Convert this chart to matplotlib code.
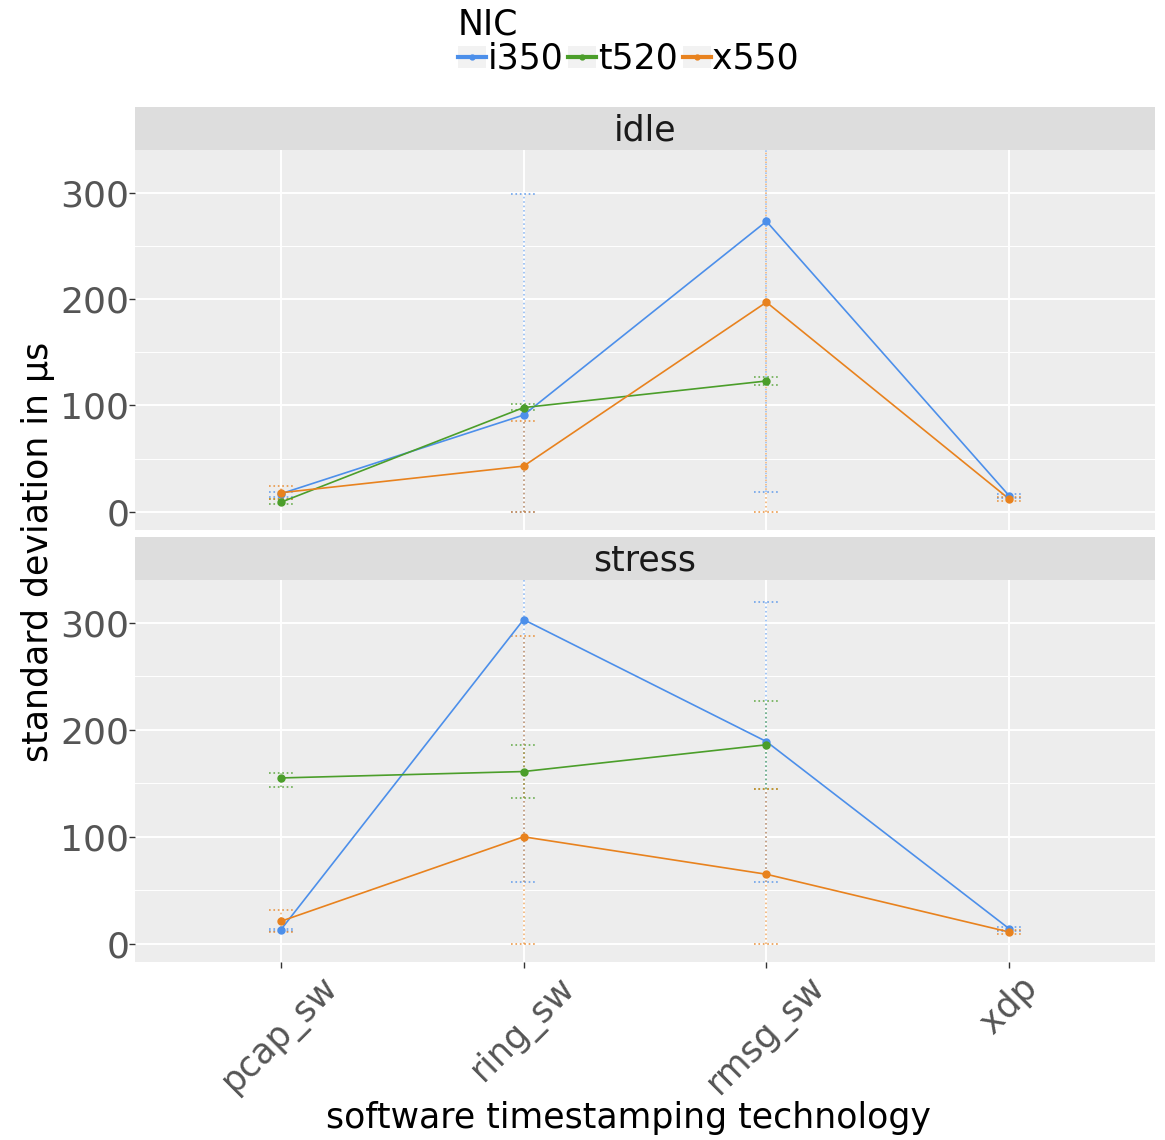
import numpy as np
import matplotlib
matplotlib.use("Agg")
import matplotlib.pyplot as plt
from matplotlib.lines import Line2D
from matplotlib.patches import Rectangle
from matplotlib.legend_handler import HandlerTuple

# ---- data -------------------------------------------------------------
categories = ["pcap_sw", "ring_sw", "rmsg_sw", "xdp"]
nics = ["i350", "t520", "x550"]
conditions = ["idle", "stress"]

# idle
idle_i350_mean = [17, 91, 273, 15]
idle_i350_lo = [14, 0, 19, 13]
idle_i350_hi = [19, 299, 420, 17]
idle_t520_mean = [9, 98, 123, np.nan]
idle_t520_lo = [7, 96, 119, np.nan]
idle_t520_hi = [12, 101, 127, np.nan]
idle_x550_mean = [18, 43, 197, 12]
idle_x550_lo = [12, 0, 0, 10]
idle_x550_hi = [24, 85, 400, 14]

# stress
stress_i350_mean = [13, 303, 189, 14]
stress_i350_lo = [12, 58, 58, 12]
stress_i350_hi = [14, 420, 319, 16]
stress_t520_mean = [155, 161, 186, np.nan]
stress_t520_lo = [147, 136, 145, np.nan]
stress_t520_hi = [160, 186, 227, np.nan]
stress_x550_mean = [21, 100, 65, 11]
stress_x550_lo = [11, 0, 0, 9]
stress_x550_hi = [32, 288, 145, 13]

series = {
    "idle": {
        "i350": (idle_i350_mean, idle_i350_lo, idle_i350_hi),
        "t520": (idle_t520_mean, idle_t520_lo, idle_t520_hi),
        "x550": (idle_x550_mean, idle_x550_lo, idle_x550_hi),
    },
    "stress": {
        "i350": (stress_i350_mean, stress_i350_lo, stress_i350_hi),
        "t520": (stress_t520_mean, stress_t520_lo, stress_t520_hi),
        "x550": (stress_x550_mean, stress_x550_lo, stress_x550_hi),
    },
}

colors = {"i350": "#4C8FEA", "t520": "#4B9E2A", "x550": "#E8821E"}

# ---- figure -------------------------------------------------------------
W, H = 1165, 1140
fig = plt.figure(figsize=(W / 100, H / 100), dpi=100)
fig.patch.set_facecolor("white")

def fx(px):
    return px / W

def fy(py):
    return 1 - py / H

left, right = 135, 1155
panels = {"idle": (150, 530, 107), "stress": (580, 962, 537)}

panel_bg = "#EDEDED"
strip_bg = "#DDDDDD"
tick_col = "#555555"
fs = 25
x = np.arange(1, len(categories) + 1)
cap = 0.05

for cond in conditions:
    top, bot, stop = panels[cond]
    ax = fig.add_axes([fx(left), fy(bot), fx(right - left), fy(top) - fy(bot)])
    ax.set_facecolor(panel_bg)
    for s in ax.spines.values():
        s.set_visible(False)
    ax.set_xlim(0.4, 4.6)
    ax.set_ylim(-17, 340)
    ax.set_yticks([0, 100, 200, 300])
    ax.set_yticks([50, 150, 250], minor=True)
    ax.set_xticks(x)
    ax.grid(True, which="major", color="white", linewidth=1.4, zorder=0)
    ax.grid(True, which="minor", axis="y", color="white", linewidth=0.7, zorder=0)
    ax.set_axisbelow(True)
    ax.tick_params(axis="y", which="major", length=4, width=1, color="#333333",
                   labelsize=26, labelcolor=tick_col, pad=0)
    ax.tick_params(axis="y", which="minor", length=0)
    if cond == "stress":
        ax.set_xticklabels(categories, rotation=45, ha="center", va="top")
        ax.tick_params(axis="x", length=4, width=1, color="#333333",
                       labelsize=fs, labelcolor=tick_col, pad=2)
    else:
        ax.tick_params(axis="x", length=0, labelbottom=False)

    for nic in nics:
        m, lo, hi = (np.array(a, dtype=float) for a in series[cond][nic])
        c = colors[nic]
        ok = ~np.isnan(m)
        ax.vlines(x[ok], lo[ok], hi[ok], colors=c, linestyles=":", linewidth=1.2,
                  alpha=0.6, zorder=2)
        ax.hlines(lo[ok], x[ok] - cap, x[ok] + cap, colors=c, linestyles=":",
                  linewidth=1.2, alpha=0.8, zorder=2)
        ax.hlines(hi[ok], x[ok] - cap, x[ok] + cap, colors=c, linestyles=":",
                  linewidth=1.2, alpha=0.8, zorder=2)
        ax.plot(x[ok], m[ok], color=c, linewidth=1.2, zorder=3)
        ax.plot(x[ok], m[ok], "o", color=c, markersize=5, zorder=4)

    # facet strip
    sax = fig.add_axes([fx(left), fy(top), fx(right - left), fy(stop) - fy(top)])
    sax.set_facecolor(strip_bg)
    sax.set_xticks([])
    sax.set_yticks([])
    for s in sax.spines.values():
        s.set_visible(False)
    sax.text(0.5, 0.45, cond, ha="center", va="center", fontsize=fs,
             color="#1A1A1A", transform=sax.transAxes)

fig.text(fx(38), fy(552), "standard deviation in µs", rotation=90,
         ha="center", va="center", fontsize=fs, color="black")
fig.text(fx(628), fy(1118), "software timestamping technology",
         ha="center", va="center", fontsize=fs, color="black")

handles = []
for n in nics:
    key_bg = Rectangle((0, 0), 1, 1, facecolor="#F2F2F2", edgecolor="none")
    key_line = Line2D([0], [0], color=colors[n], linewidth=3, marker="o",
                      markersize=3.5)
    handles.append((key_bg, key_line))
leg = fig.legend(handles, nics, loc="upper left", bbox_to_anchor=(fx(437), fy(-13)),
                 ncol=3, frameon=False, title="NIC", fontsize=fs,
                 title_fontsize=fs, handlelength=0.8, handleheight=0.6,
                 handletextpad=0.05, columnspacing=0.15, borderpad=0.1,
                 labelspacing=0.1,
                 handler_map={tuple: HandlerTuple(ndivide=1, pad=0)})
leg._legend_box.align = "left"
leg._legend_box.sep = 0

fig.savefig("out.png", dpi=100)
